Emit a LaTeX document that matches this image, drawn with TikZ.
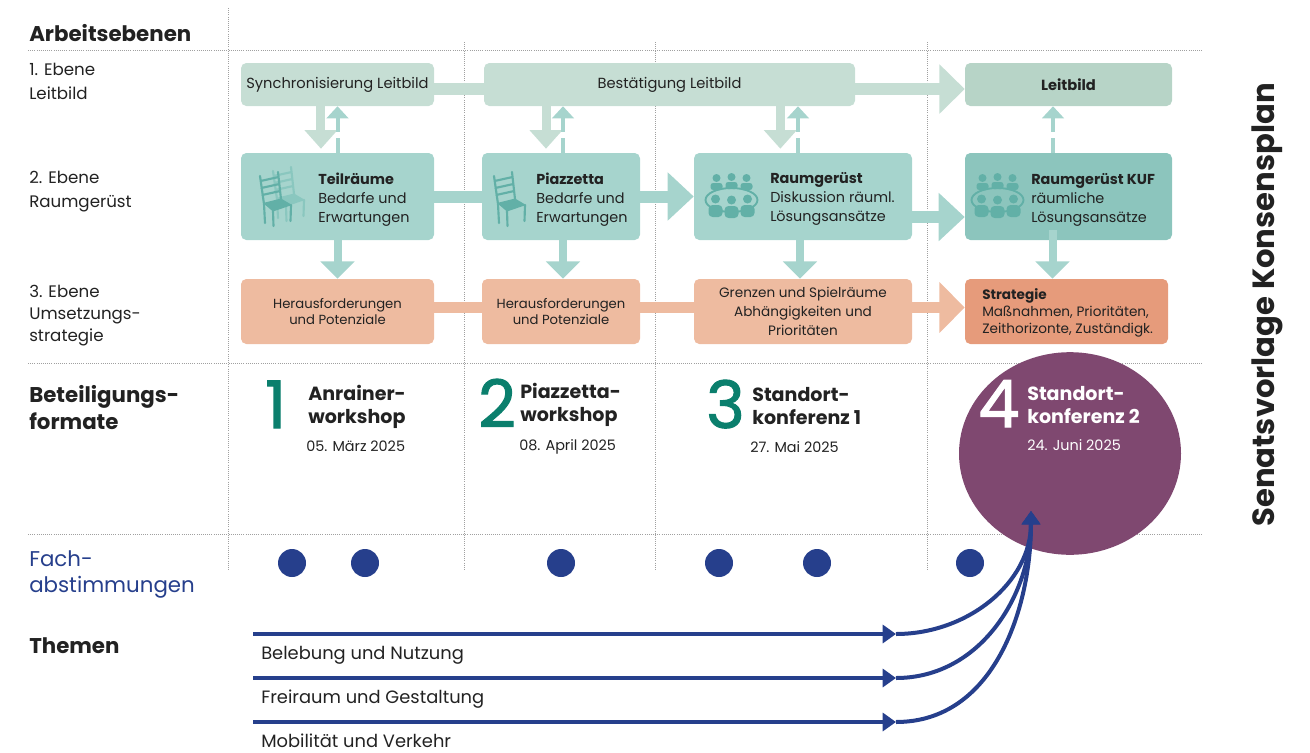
\documentclass[tikz,border=0pt]{standalone}
\usepackage{fontspec}
\setmainfont{Poppins}
\newfontfamily\zahlfont[FakeBold=1.6]{Poppins}
\usetikzlibrary{arrows.meta,shapes.geometric,positioning}

\definecolor{ebeneA}{HTML}{C6DED4}
\definecolor{ebeneAdark}{HTML}{B7D4C7}
\definecolor{ebeneB}{HTML}{A6D4CD}
\definecolor{ebeneBdark}{HTML}{8CC5BD}
\definecolor{ebeneC}{HTML}{EEBBA0}
\definecolor{ebeneCdark}{HTML}{E69B7B}
\definecolor{icon}{HTML}{62B0A7}
\definecolor{iconlight}{HTML}{8AC7BF}
\definecolor{zahlgruen}{HTML}{0B7F6D}
\definecolor{lila}{HTML}{7F4870}
\definecolor{fachblau}{HTML}{263F8C}
\definecolor{rastergrau}{HTML}{A0A0A0}
\definecolor{schrift}{HTML}{222222}

\newcommand{\fs}[2]{\fontsize{#1}{#2}\selectfont}

\tikzset{
  chair/.pic={
    \draw[line width=1.6pt, line cap=round] (2,4) -- (6,32) (20,0) -- (23,27)
      (2.6,9) -- (20.6,5) (3.4,16) -- (21.4,12) (4.3,23) -- (22.2,19)
      (6,32) -- (7,51) (15,39) -- (15.5,54) (33,33) -- (32.5,49);
    \fill (5,31) -- (23,26.5) -- (34,33) -- (15,39.5) -- cycle;
  },
  tafel/.pic={
    \fill (-15,-22) circle[radius=4] (0,-23) circle[radius=4] (15,-22) circle[radius=4];
    \fill[rounded corners=2pt] (-21,-10) -- (-21,-17) -- (-9,-17) -- (-9,-10) -- cycle;
    \fill[rounded corners=2pt] (-6,-11) -- (-6,-18) -- (6,-18) -- (6,-11) -- cycle;
    \fill[rounded corners=2pt] (9,-10) -- (9,-17) -- (21,-17) -- (21,-10) -- cycle;
    \draw[line width=1.4pt] (0,0) ellipse[x radius=26, y radius=12];
    \fill (-16,-1) circle[radius=4.5] (0,0) circle[radius=4.5] (16,-1) circle[radius=4.5];
    \fill[rounded corners=3pt] (-23,17) -- (-23,5) -- (-9,5) -- (-9,17) -- cycle;
    \fill[rounded corners=3pt] (-7,18) -- (-7,6) -- (7,6) -- (7,18) -- cycle;
    \fill[rounded corners=3pt] (9,17) -- (9,5) -- (23,5) -- (23,17) -- cycle;
  }
}

\begin{document}
\begin{tikzpicture}[x=0.75pt, y=-0.75pt, text=schrift, font=\fs{11}{13},
  gitter/.style={draw=rastergrau, line width=0.6pt, dash pattern=on 0.6pt off 1pt},
  box/.style={rounded corners=4pt, inner sep=0pt, align=center},
  titel/.style={font=\bfseries\fs{16}{20}, inner sep=0pt, align=left},
  ebene/.style={font=\fs{12.5}{18}, inner sep=0pt, align=left},
  boxtext/.style={font=\fs{10.8}{14}, inner sep=0pt, align=left, anchor=base west},
  zahl/.style={font=\zahlfont\fs{49}{49}, text=zahlgruen, inner sep=0pt, anchor=base west},
  format/.style={font=\bfseries\fs{14.3}{17}, inner sep=0pt, align=left, anchor=base west},
  datum/.style={font=\fs{10.8}{12}, inner sep=0pt, anchor=base west},
  punkt/.style={circle, fill=fachblau, minimum size=21pt, inner sep=0pt},
  thema/.style={font=\fs{13.4}{15}, inner sep=0pt, anchor=base west},
  balkenA/.style={draw=ebeneA, line width=9pt},
  balkenB/.style={draw=ebeneB, line width=9pt},
  balkenC/.style={draw=ebeneC, line width=8.5pt},
  pfeilA/.style={balkenA, -{Triangle[width=36pt,length=19pt]}},
  pfeilB/.style={balkenB, -{Triangle[width=35pt,length=19.5pt]}},
  pfeilC/.style={balkenC, -{Triangle[width=37pt,length=19pt]}},
  runter/.style={draw=ebeneA, line width=6.75pt, -{Triangle[width=24pt,length=14pt]}},
  rauf/.style={draw=ebeneB, line width=3pt, dash pattern=on 11.25pt off 4.5pt on 40pt off 0pt,
    -{Triangle[width=16pt,length=9pt]}},
  runterB/.style={draw=ebeneB, line width=6pt, -{Triangle[width=25pt,length=13pt]}},
  themenpfeil/.style={draw=fachblau, line width=3pt, -{Triangle[width=13.5pt,length=10pt]}}
]
\useasboundingbox (0,0) rectangle (1310,753);

% Raster
\draw[gitter] (28,50) -- (1202,50) (28,363) -- (1202,363) (28,534) -- (1202,534);
\draw[gitter] (228,8) -- (228,570);
\foreach \x in {464,655,927}
  \draw[gitter] (\x,42) -- (\x,570);

% Zeilentitel (base = letzte Zeile)
\node[titel, anchor=base west] (arb) at (29,41) {Arbeitsebenen};
\node[ebene, anchor=base west] (e1) at (29,99) {1. Ebene\\Leitbild};
\node[ebene, anchor=base west] (e2) at (29,207) {2. Ebene\\Raumgerüst};
\node[ebene, anchor=base west, font=\fs{12.5}{16.5}] (e3) at (29,341) {3. Ebene\\Umsetzungs-\\strategie};
\node[titel, anchor=base west] (bet) at (29,429) {Beteiligungs-\\formate};
\node[ebene, anchor=base west, font=\fs{16}{19}, text=fachblau] (fach) at (29,592) {Fach-\\abstimmungen};
\node[titel, anchor=base west] (them) at (29,653) {Themen};
\node[rotate=90, anchor=base, inner sep=0pt, font=\bfseries\fs{23}{23}] (senat) at (1274,305) {Senatsvorlage Konsensplan};

% 1. Ebene
\node[box, fill=ebeneA, minimum width=144.75pt, minimum height=32.25pt] (sync) at (337.5,84.5) {Synchronisierung Leitbild};
\node[box, fill=ebeneA, minimum width=278.25pt, minimum height=32.25pt] (best) at (669.5,84.5) {Bestätigung Leitbild};
\node[box, fill=ebeneAdark, minimum width=155.25pt, minimum height=32.25pt] (leit) at (1068.5,84.5) {\textbf{Leitbild}};

% 2. Ebene
\node[box, fill=ebeneB, minimum width=144.75pt, minimum height=65.25pt] (teil) at (337.5,196.5) {};
\node[box, fill=ebeneB, minimum width=118.5pt, minimum height=65.25pt] (piaz) at (561,196.5) {};
\node[box, fill=ebeneB, minimum width=163.5pt, minimum height=65.25pt] (raum) at (803,196.5) {};
\node[box, fill=ebeneBdark, minimum width=155.25pt, minimum height=65.25pt] (kuf) at (1068.5,196.5) {};
\pic[color=iconlight] at (271,167) {chair};
\pic[color=icon] at (258,172) {chair};
\pic[color=icon] at (492,172) {chair};
\pic[color=icon] at (731.5,200) {tafel};
\pic[color=icon] at (997.5,200) {tafel};
\node[boxtext] (teiltxt) at (318,222) {\textbf{Teilräume}\\Bedarfe und\\Erwartungen};
\node[boxtext] (piaztxt) at (536,222) {\textbf{Piazzetta}\\Bedarfe und\\Erwartungen};
\node[boxtext] (raumtxt) at (770,221) {\textbf{Raumgerüst}\\Diskussion räuml.\\Lösungsansätze};
\node[boxtext] (kuftxt) at (1031,222) {\textbf{Raumgerüst KUF}\\räumliche\\Lösungsansätze};

% 3. Ebene
\node[box, fill=ebeneC, minimum width=144.75pt, minimum height=48.75pt, font=\fs{9.9}{12}] (her1) at (337.5,311.5) {Herausforderungen\\und Potenziale};
\node[box, fill=ebeneC, minimum width=118.5pt, minimum height=48.75pt, font=\fs{9.9}{12}] (her2) at (561,311.5) {Herausforderungen\\und Potenziale};
\node[box, fill=ebeneC, minimum width=163.5pt, minimum height=48.75pt, font=\fs{10.2}{14.5}] (gren) at (803,311.5) {Grenzen und Spielräume\\Abhängigkeiten und\\Prioritäten};
\node[box, fill=ebeneCdark, minimum width=152.25pt, minimum height=48.75pt] (strat) at (1066.5,311.5) {};
\node[boxtext, font=\fs{10.2}{12.75}] (strattxt) at (982,333) {\textbf{Strategie}\\Maßnahmen, Prioritäten,\\Zeithorizonte, Zuständigk.};

% Verbindungen waagerecht
\draw[balkenA] ([yshift=-3.4pt]sync.east) -- ([yshift=-3.4pt]best.west);
\draw[pfeilA] ([yshift=-3.4pt]best.east) -- ([yshift=-3.4pt]leit.west);
\draw[balkenB] (teil.east) -- (piaz.west);
\draw[pfeilB] (piaz.east) -- (raum.west);
\draw[pfeilB] ([yshift=-15.4pt]raum.east) -- ([yshift=-15.4pt]kuf.west);
\draw[balkenC] ([yshift=3pt]her1.east) -- ([yshift=3pt]her2.west);
\draw[balkenC] ([yshift=3pt]her2.east) -- ([yshift=3pt]gren.west);
\draw[pfeilC] ([yshift=3pt]gren.east) -- ([yshift=3pt]strat.west);

% Verbindungen senkrecht
\draw[runter] ([xshift=-12.4pt]sync.south) -- ([xshift=-12.4pt,yshift=3pt]teil.north);
\draw[rauf] (teil.north) -- (sync.south);
\draw[runter] ([xshift=-11.25pt]piaz.north |- best.south) -- ([xshift=-11.25pt,yshift=3pt]piaz.north);
\draw[rauf] ([xshift=1.5pt]piaz.north) -- ([xshift=1.5pt]piaz.north |- best.south);
\draw[runter] ([xshift=-17pt]raum.north |- best.south) -- ([xshift=-17pt,yshift=3pt]raum.north);
\draw[rauf] ([xshift=-3.75pt]raum.north) -- ([xshift=-3.75pt]raum.north |- best.south);
\draw[rauf] ([xshift=-11.6pt]kuf.north) -- ([xshift=-11.6pt]leit.south);
\draw[runterB] (teil.south) -- (her1.north);
\draw[runterB] ([xshift=1.5pt]piaz.south) -- ([xshift=1.5pt]her2.north);
\draw[runterB] ([xshift=-2.25pt]raum.south) -- ([xshift=-2.25pt]gren.north);
\draw[runterB] ([xshift=-12pt,yshift=7.5pt]kuf.south) -- ([xshift=-12pt]kuf.south |- strat.north);

% Beteiligungsformate
\node[zahl] (n1) at (265,428) {1};
\node[format] (f1) at (308,423) {Anrainer-\\workshop};
\node[datum] (d1) at (306,451) {05. März 2025};
\node[zahl] (n2) at (478,427) {2};
\node[format] (f2) at (520,421) {Piazzetta-\\workshop};
\node[datum] (d2) at (519,450) {08. April 2025};
\node[zahl] (n3) at (706,428) {3};
\node[format] (f3) at (752,424) {Standort-\\konferenz 1};
\node[datum] (d3) at (750,452) {27. Mai 2025};
\node[ellipse, fill=lila, minimum width=166.5pt, minimum height=152pt, inner sep=0pt] (sk2) at (1070,453.5) {};
\node[zahl, text=white] (n4) at (978,427) {4};
\node[format, text=white] (f4) at (1027,423) {Standort-\\konferenz 2};
\node[datum, text=white] (d4) at (1027,450) {24. Juni 2025};

% Fachabstimmungen
\foreach \x [count=\i] in {292,365,561,719,817,970}
  \node[punkt] (p\i) at (\x,563) {};

% Themen
\coordinate (ziel) at (1031,511);
\foreach \y/\t [count=\i] in {634/Belebung und Nutzung, 678/Freiraum und Gestaltung, 722/Mobilität und Verkehr} {
  \coordinate (s\i) at (253,\y);
  \coordinate (e\i) at (896,\y);
  \node[thema] (t\i) at (261,\y+25.5) {\t};
  \draw[themenpfeil] (s\i) -- (e\i);
  \draw[themenpfeil] (e\i) to[out=0, in=-90] (ziel);
}
\end{tikzpicture}
\end{document}
